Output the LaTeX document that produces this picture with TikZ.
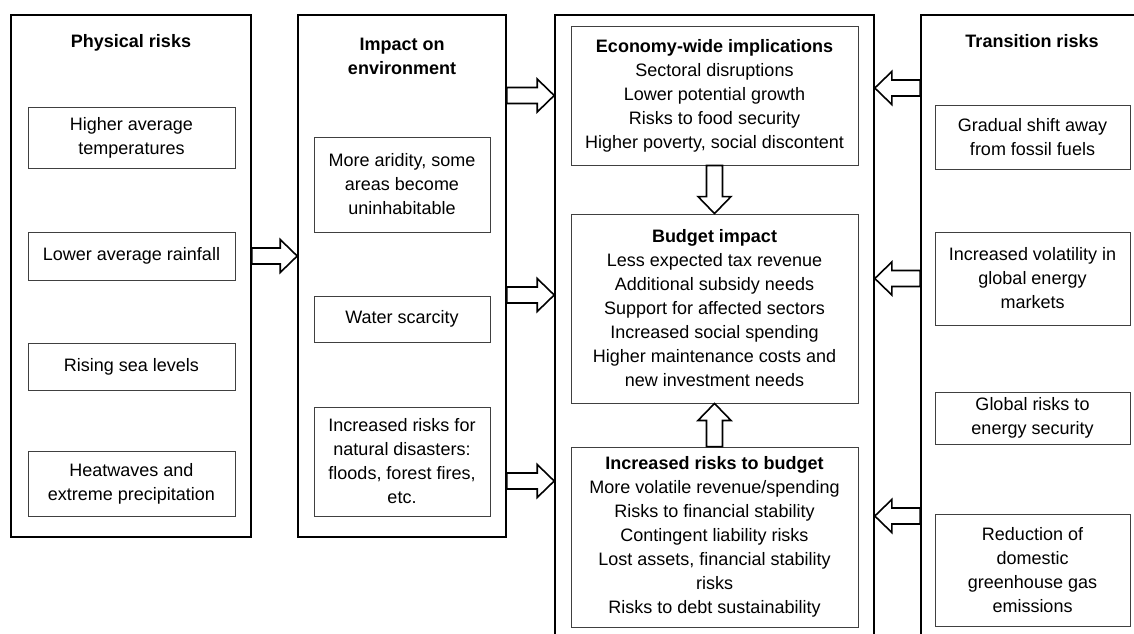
\documentclass[tikz,border=0pt]{standalone}
\usepackage{fontspec}
\setmainfont{Liberation Sans}
\usetikzlibrary{calc}

\newcommand{\blockarrow}[2]{%
\coordinate (ba-h) at ($(#2)!17pt!(#1)$);
\draw [fatarrow] ($(#1)!8pt!90:(#2)$) -- ($(ba-h)!8pt!90:(#2)$) -- ($(ba-h)!16.5pt!90:(#2)$) -- (#2) -- ($(ba-h)!16.5pt!-90:(#2)$) -- ($(ba-h)!8pt!-90:(#2)$) -- ($(#1)!8pt!-90:(#2)$) -- cycle;}

\begin{document}
\begin{tikzpicture}[x=1pt,y=1pt,font=\fontsize{18}{24}\selectfont]
\tikzstyle{every node}+=[inner sep=0pt]
\tikzstyle{panel}=[draw=black, line width=1.6pt]
\tikzstyle{item}=[draw=black!75, line width=0.9pt, align=center]
\tikzstyle{heading}=[font=\fontsize{18}{24}\selectfont\bfseries, align=center]
\tikzstyle{fatarrow}=[draw=black, line width=1.6pt, fill=white, line join=miter]
\useasboundingbox (0,0) rectangle (1134,-633);
\clip (0,0) rectangle (1134,-633);
\node [panel, minimum width=240, minimum height=522] (phys) at (131,-276) {};
\node [panel, minimum width=208, minimum height=522] (env) at (402,-276) {};
\node [panel, minimum width=319, minimum height=650] (big) at (714.5,-340) {};
\node [panel, minimum width=222, minimum height=650] (trans) at (1032,-340) {};
\node [heading] (phystitle) at (131,-43) {Physical risks};
\node [heading] (envtitle) at (402,-56) {Impact on\\environment};
\node [heading] (transtitle) at (1032,-41) {Transition risks};
\node [item, minimum width=207, minimum height=61] (temp) at (131.5,-138) {Higher average\\temperatures};
\node [item, minimum width=207, minimum height=48] (rain) at (131.5,-256) {Lower average rainfall};
\node [item, minimum width=207, minimum height=47] (sea) at (131.5,-366.5) {Rising sea levels};
\node [item, minimum width=207, minimum height=64.5] (heat) at (131.5,-484) {Heatwaves and\\extreme precipitation};
\node [item, minimum width=176, minimum height=95] (arid) at (402,-184.5) {More aridity, some\\areas become\\uninhabitable};
\node [item, minimum width=176, minimum height=46] (water) at (402,-319) {Water scarcity};
\node [item, minimum width=176, minimum height=109] (disaster) at (402,-461.5) {Increased risks for\\natural disasters:\\floods, forest fires,\\etc.};
\node [item, minimum width=287, minimum height=139] (econ) at (714.5,-95.5) {\textbf{Economy-wide implications}\\Sectoral disruptions\\Lower potential growth\\Risks to food security\\Higher poverty, social discontent};
\node [item, minimum width=287, minimum height=189] (budget) at (714.5,-308.5) {\textbf{Budget impact}\\Less expected tax revenue\\Additional subsidy needs\\Support for affected sectors\\Increased social spending\\Higher maintenance costs and\\new investment needs};
\node [item, minimum width=287, minimum height=180] (riskb) at (714.5,-537) {\textbf{Increased risks to budget}\\More volatile revenue/spending\\Risks to financial stability\\Contingent liability risks\\Lost assets, financial stability\\risks\\Risks to debt sustainability};
\node [item, minimum width=195, minimum height=64] (gradual) at (1032.5,-137) {Gradual shift away\\from fossil fuels};
\node [item, minimum width=195, minimum height=93] (vol) at (1032.5,-278.5) {Increased volatility in\\global energy\\markets};
\node [item, minimum width=195, minimum height=52] (secur) at (1032.5,-418) {Global risks to\\energy security};
\node [item, minimum width=195, minimum height=112] (reduce) at (1032.5,-570) {Reduction of\\domestic\\greenhouse gas\\emissions};
\coordinate (lvl1) at (0,-88);
\coordinate (lvl2) at (0,-295);
\coordinate (lvl3) at (0,-481);
\coordinate (lvl4) at (0,-516);
\blockarrow{phys.east |- rain}{env.west |- rain}
\blockarrow{env.east |- econ}{big.west |- econ}
\blockarrow{env.east |- lvl2}{big.west |- lvl2}
\blockarrow{env.east |- lvl3}{big.west |- lvl3}
\blockarrow{trans.west |- lvl1}{big.east |- lvl1}
\blockarrow{trans.west |- vol}{big.east |- vol}
\blockarrow{trans.west |- lvl4}{big.east |- lvl4}
\blockarrow{econ.south}{budget.north}
\blockarrow{riskb.north}{budget.south}
\end{tikzpicture}
\end{document}
